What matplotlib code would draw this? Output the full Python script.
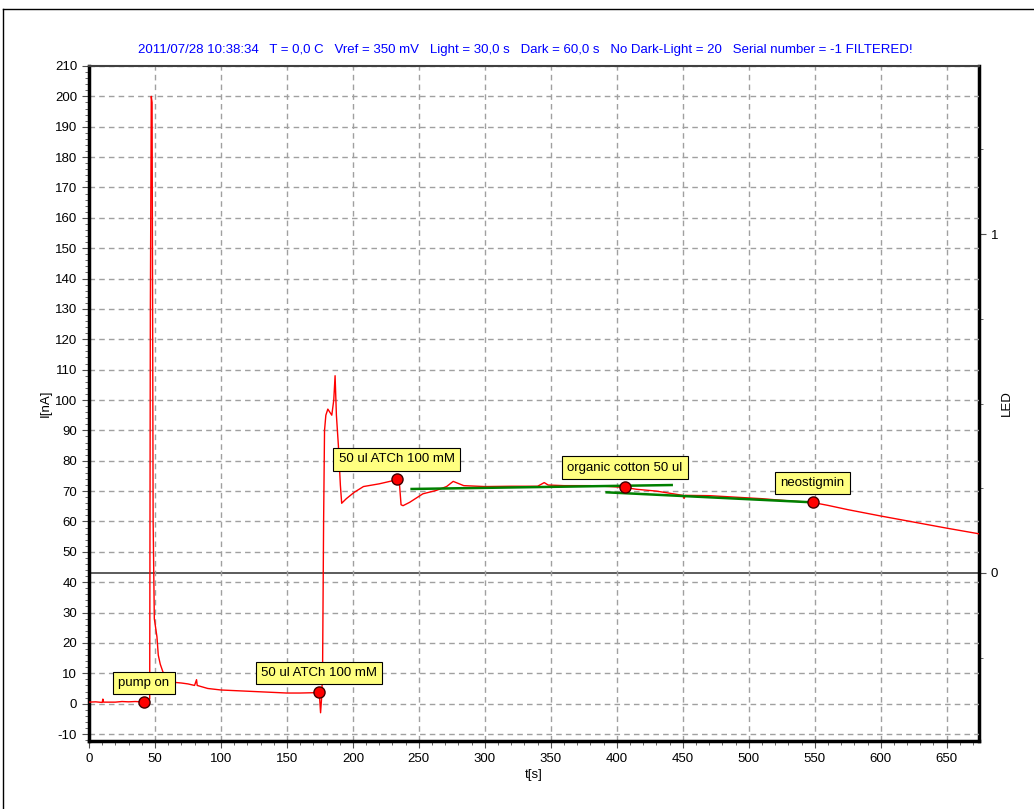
import numpy as np
import matplotlib
matplotlib.use('Agg')
import matplotlib.pyplot as plt
from matplotlib.ticker import MultipleLocator, FixedLocator
from matplotlib.lines import Line2D

plt.rcParams['font.family'] = ['Liberation Sans', 'DejaVu Sans']
plt.rcParams['axes.unicode_minus'] = False

# measured current (red trace)
t = [0, 5, 10, 10.5, 11, 15, 20, 25, 30, 35, 40, 42, 44, 46.0, 46.5, 47.2, 47.8, 48.2, 48.6,
     49.5, 50.5, 51.5, 52.5, 54, 56, 58, 60, 65, 70, 75, 80, 81.5, 82, 90, 100, 110, 125,
     140, 150, 160, 170, 174.5, 175.5, 176.3, 177, 177.8, 178.5, 179.5, 181, 182.5, 184,
     185.5, 186.5, 187.5, 189, 190.5, 191.5, 195, 201, 208, 220, 230, 233, 235, 236.5,
     238, 243, 253, 263, 271, 276, 280, 284, 300, 320, 340, 345, 348, 360, 380, 395,
     406, 415, 430, 450, 451, 452, 470, 490, 510, 530, 548, 560, 575, 600, 625, 650, 675]
current = [0.5, 0.6, 0.4, 1.5, 0.5, 0.5, 0.5, 0.7, 0.6, 0.7, 0.6, 0.4, 1.0, 1.5, 130, 200, 198, 130, 60,
           28, 25, 22, 16, 13, 10.5, 9, 8, 7, 6.8, 6.5, 6, 7.9, 6, 5, 4.5, 4.3, 4,
           3.7, 3.5, 3.5, 3.6, 3.7, -3, 2, 10, 60, 90, 95, 97, 96, 95,
           100, 108, 95, 85, 72, 66, 67.5, 69.6, 71.5, 72.4, 73.4, 74, 74, 65.5,
           65.2, 66.3, 69.1, 70.2, 71.5, 73.2, 72.5, 71.8, 71.5, 71.6, 71.6, 72.8, 72, 71.8, 71.8, 71.5,
           71.2, 70.6, 70, 68.6, 67.6, 68.6, 68.5, 68, 67.5, 66.8, 66.3, 65.3, 63.9, 61.8, 59.8, 57.8, 55.9]

# fitted lines (green)
fit1_t = [244.5, 441.6]
fit1 = [70.7, 72.0]
fit2_t = [392.3, 548.4]
fit2 = [69.6, 66.3]

# LED channel
led_t = [0, 675]
led = [0, 0]

# events
ev_t = [41.7, 174.3, 233.2, 406.2, 548.4]
ev_i = [0.4, 3.7, 74.0, 71.3, 66.3]
ev_lbl = ['pump on', '50 ul ATCh 100 mM', '50 ul ATCh 100 mM', 'organic cotton 50 ul', 'neostigmin']

title = ('2011/07/28 10:38:34   T = 0,0 C   Vref = 350 mV   Light = 30,0 s   Dark = 60,0 s   '
         'No Dark-Light = 20   Serial number = -1 FILTERED!')

fig = plt.figure(figsize=(10.34, 8.09), dpi=100)
ax = fig.add_axes([89/1034, 1-740.7/809, 890/1034, (740.7-66)/809])

ax.plot(t, current, color='#ff0000', lw=1, zorder=3)
ax.plot(fit1_t, fit1, color='#008000', lw=1.8, zorder=4)
ax.plot(fit2_t, fit2, color='#008000', lw=1.8, zorder=4)
ax.plot(ev_t, ev_i, 'o', ms=8, mfc='#ff0000', mec='#400000', mew=1, zorder=5)
for x, y, s in zip(ev_t, ev_i, ev_lbl):
    ax.annotate(s, (x, y), xytext=(0, 21), textcoords='offset pixels', ha='center', va='center_baseline',
                fontsize=9.5, zorder=6,
                bbox=dict(boxstyle='square,pad=0.4', fc='#ffff80', ec='black', lw=0.8))

ax.set_xlim(0, 674.5)
ax.set_ylim(-12.2, 210)
ax.xaxis.set_major_locator(MultipleLocator(50))
ax.xaxis.set_minor_locator(MultipleLocator(10))
ax.yaxis.set_major_locator(MultipleLocator(10))
ax.yaxis.set_minor_locator(MultipleLocator(2))
ax.grid(True, which='major', color='#a0a0a0', ls=(0, (4, 3)), lw=1)
ax.tick_params(which='both', labelsize=9.5, color='#505050', direction='out')
ax.tick_params(which='major', length=5)
ax.tick_params(which='minor', length=3)
ax.set_xlabel('t[s]', fontsize=9.5, labelpad=3)
ax.set_ylabel('I[nA]', fontsize=9.5, labelpad=2)
for side in ['left', 'bottom']:
    ax.spines[side].set_linewidth(2.5)
ax.spines['top'].set_linewidth(1.5)
ax.spines['top'].set_color('#404040')
ax.spines['right'].set_visible(False)

ax2 = ax.twinx()
ax2.plot(led_t, led, color='#404040', lw=1.2, zorder=2)
ax2.set_ylim(-0.495, 1.496)
ax2.yaxis.set_major_locator(FixedLocator([0, 1]))
ax2.yaxis.set_minor_locator(FixedLocator([-0.25, 0.25, 0.5, 0.75, 1.25]))
ax2.tick_params(which='both', labelsize=9.5, color='#505050', direction='out')
ax2.tick_params(which='major', length=5)
ax2.tick_params(which='minor', length=3)
ax2.set_ylabel('LED', fontsize=9.5, labelpad=2)
ax2.spines['right'].set_linewidth(2.5)
for side in ['left', 'bottom', 'top']:
    ax2.spines[side].set_visible(False)
ax.set_zorder(2)
ax.patch.set_visible(False)

fig.text(0.508, 1-50/809, title, color='#0000ff', fontsize=9.5, ha='center', va='center')

# outer frame
fig.add_artist(Line2D([3/1034, 3/1034], [0, 1-9/809], color='black', lw=1, transform=fig.transFigure))
fig.add_artist(Line2D([3/1034, 1], [1-9/809, 1-9/809], color='black', lw=1, transform=fig.transFigure))

fig.savefig('out.png', dpi=100)
